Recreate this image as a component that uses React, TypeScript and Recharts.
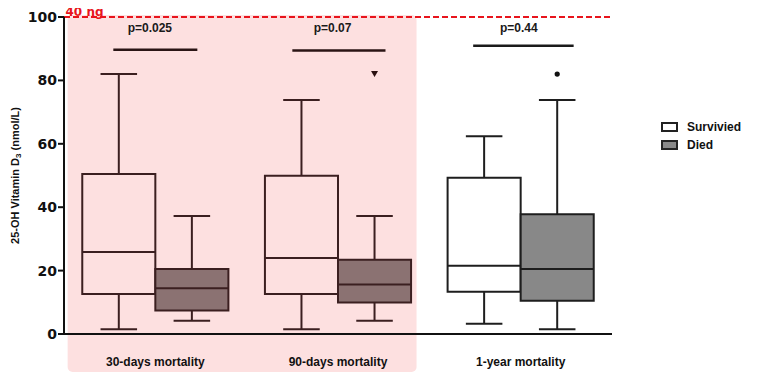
import React from 'react'
import { ComposedChart, XAxis, YAxis, Scatter, ReferenceArea, ReferenceLine, ReferenceDot, Legend } from 'recharts'

// categories
const groups = ['30-days mortality', '90-days mortality', '1-year mortality']
const groupCenters = [0.5, 1.5, 2.5]
const groupLabelY = -8.8

// box stats (nmol/L)
const survMin = [1.5, 1.5, 3.2]
const survQ1 = [12.6, 12.6, 13.3]
const survMed = [25.9, 24, 21.5]
const survQ3 = [50.5, 49.9, 49.3]
const survMax = [82, 73.8, 62.4]

const diedMin = [4.2, 4.2, 1.5]
const diedQ1 = [7.4, 9.9, 10.5]
const diedMed = [14.4, 15.6, 20.5]
const diedQ3 = [20.5, 23.4, 37.8]
const diedMax = [37.2, 37.2, 73.8]

const outlierGroup = [1, 2]
const outlierValue = [82, 82]

// significance bars
const pLabels = ['p=0.025', 'p=0.07', 'p=0.44']
const pBarStart = [0.27, 1.25, 2.24]
const pBarEnd = [0.73, 1.76, 2.79]
const pBarY = [89.7, 89.4, 90.9]
const pTextX = [0.47, 1.47, 2.49]
const pTextY = 96.7

const yTicks = [0, 20, 40, 60, 80, 100]
const legendNames = ['Survivied', 'Died']

const FONT = '"Liberation Sans", Arial, Helvetica, sans-serif'
const WIDE = '"DejaVu Sans", Verdana, sans-serif'
const HALF = 0.2
const CAP = 0.1

const palette = (g: number) =>
  g < 2
    ? { line: '#3b1f20', surv: 'transparent', died: '#8b7272' }
    : { line: '#1e1e1e', surv: '#ffffff', died: '#888888' }

const boxParts = (key: string, cx: number, mn: number, q1: number, med: number, q3: number, mx: number, fill: string, stroke: string) => [
  <ReferenceLine key={key + 'wl'} xAxisId="box" segment={[{ x: cx, y: mn }, { x: cx, y: q1 }]} stroke={stroke} strokeWidth={2} ifOverflow="visible" />,
  <ReferenceLine key={key + 'wh'} xAxisId="box" segment={[{ x: cx, y: q3 }, { x: cx, y: mx }]} stroke={stroke} strokeWidth={2} ifOverflow="visible" />,
  <ReferenceLine key={key + 'cl'} xAxisId="box" segment={[{ x: cx - CAP, y: mn }, { x: cx + CAP, y: mn }]} stroke={stroke} strokeWidth={2} ifOverflow="visible" />,
  <ReferenceLine key={key + 'ch'} xAxisId="box" segment={[{ x: cx - CAP, y: mx }, { x: cx + CAP, y: mx }]} stroke={stroke} strokeWidth={2} ifOverflow="visible" />,
  <ReferenceArea key={key + 'b'} xAxisId="box" x1={cx - HALF} x2={cx + HALF} y1={q1} y2={q3} fill={fill} fillOpacity={1} stroke={stroke} strokeWidth={2} ifOverflow="visible" />,
  <ReferenceLine key={key + 'm'} xAxisId="box" segment={[{ x: cx - HALF, y: med }, { x: cx + HALF, y: med }]} stroke={stroke} strokeWidth={2} ifOverflow="visible" />,
]

const outliers = outlierGroup.map((g, i) => ({ x: groupCenters[g] + HALF, y: outlierValue[i], g }))

const OutlierShape = (props: any) => {
  const { cx, cy, payload } = props
  if (payload.g < 2) {
    return <path d={`M${cx - 3.5},${cy - 3} L${cx + 3.5},${cy - 3} L${cx},${cy + 3} Z`} fill="#2a1010" />
  }
  return <circle cx={cx} cy={cy} r={2.6} fill="#111" />
}

const PinkPanel = (props: any) => {
  const { x, y, width, height } = props
  return <rect x={x} y={y} width={width} height={height} rx={5} ry={5} fill="#fde0e0" />
}

const YLabel = (props: any) => {
  const vb = props.viewBox
  const cx = vb.x + 7
  const cy = vb.y + vb.height / 2
  return (
    <text x={cx} y={cy} transform={`rotate(-90 ${cx} ${cy})`} textAnchor="middle" dominantBaseline="central" fontSize={11} fontWeight="bold" fill="#111" fontFamily={FONT}>
      25-OH Vitamin D<tspan fontSize={8} dy={3}>3</tspan><tspan dy={-3}> (nmol/L)</tspan>
    </text>
  )
}

const LegendBox = () => (
  <div style={{ fontFamily: FONT, fontSize: 12, fontWeight: 'bold', color: '#111' }}>
    {legendNames.map((n, i) => (
      <div key={n} style={{ display: 'flex', alignItems: 'center', height: 18 }}>
        <span style={{ display: 'inline-block', width: 17, height: 10, boxSizing: 'border-box', border: '2px solid #222', background: i === 0 ? '#fff' : '#888', marginRight: 9 }} />
        {n}
      </div>
    ))}
  </div>
)

export default function App() {
  const boxTicks = groupCenters.flatMap(c => [c - HALF, c + HALF])
  return (
    <div style={{ fontFamily: FONT, marginTop: -4 }}>
      <ComposedChart width={760} height={370} margin={{ top: 13, right: 156, bottom: 0, left: 0 }}>
        <XAxis xAxisId="box" type="number" dataKey="x" domain={[0, 3]} ticks={boxTicks} tick={false} tickSize={5} height={40}
          axisLine={{ stroke: '#111', strokeWidth: 2 }} tickLine={{ stroke: '#111', strokeWidth: 2 }} allowDataOverflow />
        <YAxis type="number" domain={[0, 100]} ticks={yTicks} width={56} tickSize={6} tickMargin={1}
          axisLine={{ stroke: '#111', strokeWidth: 2 }} tickLine={{ stroke: '#111', strokeWidth: 2 }}
          tick={{ fill: '#111', fontSize: 14, fontWeight: 'bold', fontFamily: WIDE }}
          label={{ content: YLabel }} />

        <ReferenceArea xAxisId="box" x1={0.02} x2={1.93} y1={-12} y2={100.6} ifOverflow="visible" shape={PinkPanel} />

        {groupCenters.flatMap((c, g) => {
          const p = palette(g)
          return [
            ...boxParts('s' + g, c - HALF, survMin[g], survQ1[g], survMed[g], survQ3[g], survMax[g], p.surv, p.line),
            ...boxParts('d' + g, c + HALF, diedMin[g], diedQ1[g], diedMed[g], diedQ3[g], diedMax[g], p.died, p.line),
          ]
        })}

        {groups.map((name, i) => (
          <ReferenceDot key={'gl' + i} xAxisId="box" x={groupCenters[i]} y={groupLabelY} r={0} stroke="none" fill="none" ifOverflow="visible"
            label={{ value: name, position: 'center', fill: '#111', fontSize: 12, fontWeight: 'bold' }} />
        ))}

        {pLabels.map((lab, i) => (
          <ReferenceLine key={'pb' + i} xAxisId="box" segment={[{ x: pBarStart[i], y: pBarY[i] }, { x: pBarEnd[i], y: pBarY[i] }]}
            stroke={i < 2 ? '#2a1515' : '#1a1a1a'} strokeWidth={2.5} />
        ))}
        {pLabels.map((lab, i) => (
          <ReferenceDot key={'pt' + i} xAxisId="box" x={pTextX[i]} y={pTextY} r={0} stroke="none" fill="none"
            label={{ value: lab, position: 'center', fill: '#1a1a1a', fontSize: 12, fontWeight: 'bold' }} />
        ))}

        <ReferenceLine xAxisId="box" y={100} stroke="#e8141c" strokeDasharray="6 3" strokeWidth={2}
          label={{ value: '40 ng', position: 'insideBottomLeft', offset: 1.5, fill: '#e8141c', fontSize: 12, fontWeight: 'bold', fontFamily: WIDE }} />

        <Scatter xAxisId="box" data={outliers} dataKey="y" shape={OutlierShape} isAnimationActive={false} />

        <Legend layout="vertical" align="center" verticalAlign="middle" wrapperStyle={{ left: 653, top: 114, width: 110 }} content={LegendBox} />
      </ComposedChart>
    </div>
  )
}
